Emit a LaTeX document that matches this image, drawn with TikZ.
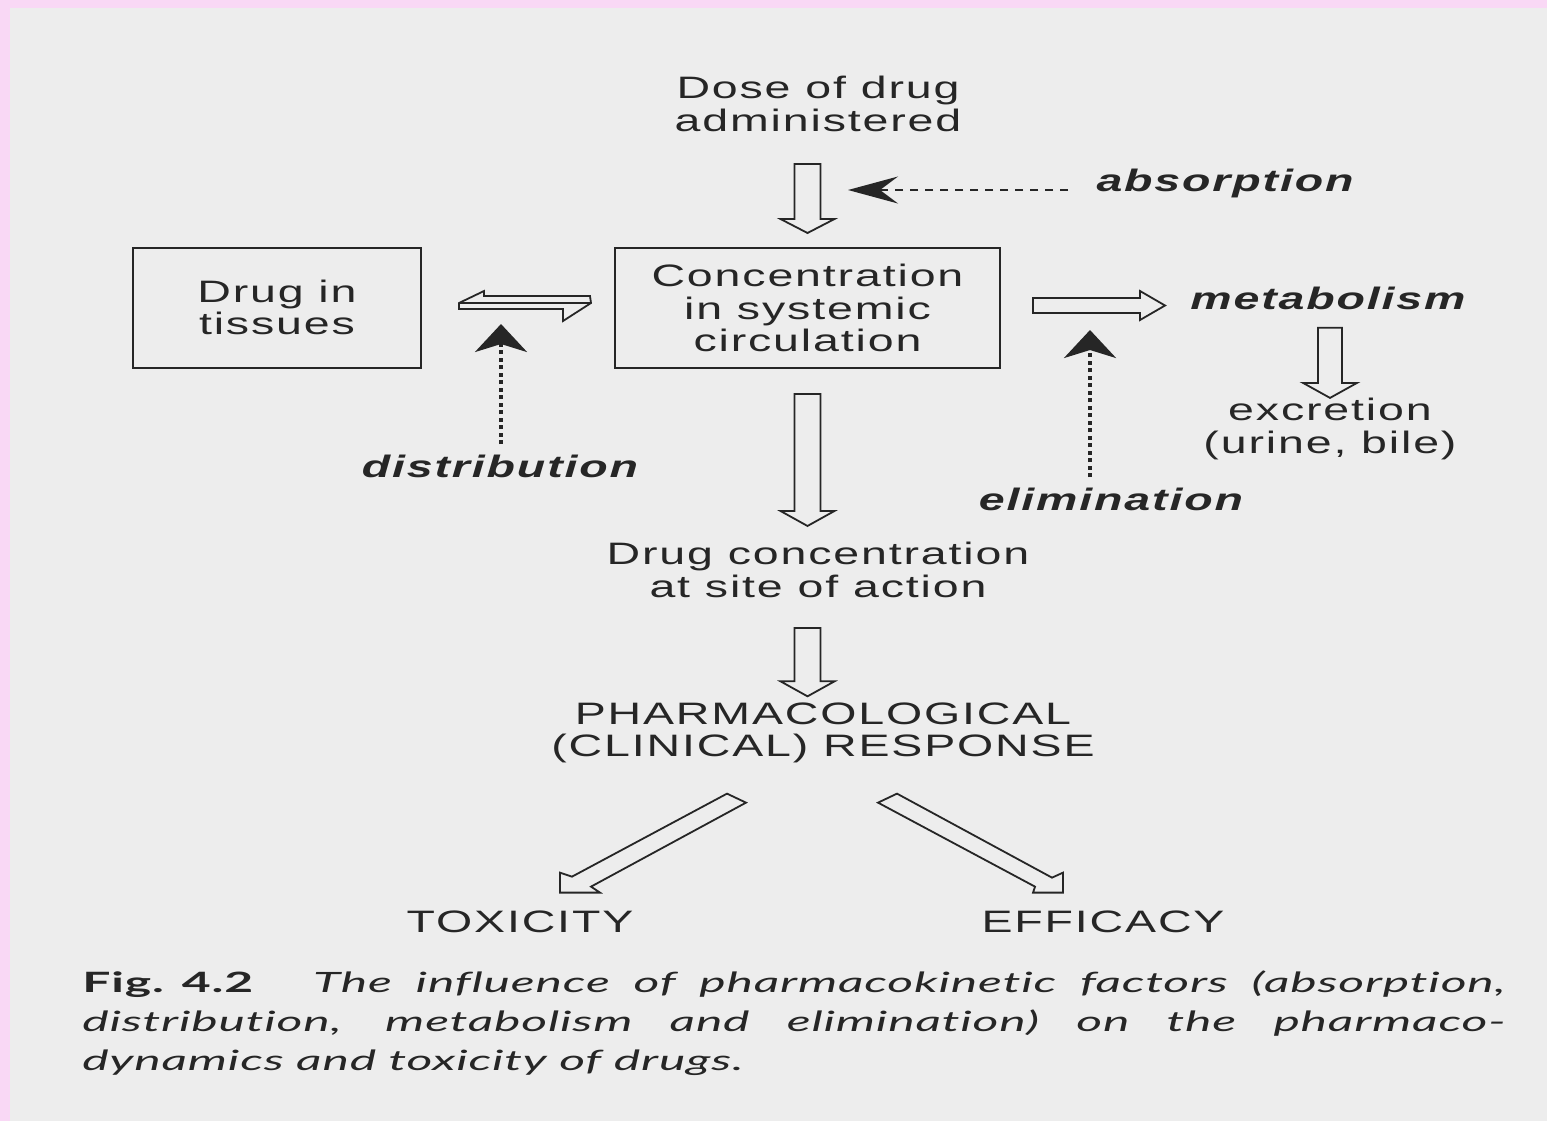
\documentclass[tikz,border=0pt]{standalone}
\usepackage{fontspec}
\usepackage{xcolor}
\usepackage{tikz}
\usetikzlibrary{positioning,calc,arrows.meta}

\newfontfamily\diagfont{Liberation Sans}[FakeStretch=1.5,LetterSpace=6]
\newfontfamily\captfont{Lato}[FakeStretch=1.78,LetterSpace=3,Ligatures=NoCommon]

\definecolor{ink}{HTML}{262626}
\definecolor{paper}{HTML}{EDEDED}
\definecolor{rim}{HTML}{F9D8F5}

% hollow block arrow: start, tip, shaft half width, head half width, head length
\newcommand{\blockarrow}[5]{%
  \coordinate (ba-s) at #1;
  \coordinate (ba-e) at #2;
  \coordinate (ba-b) at ($(ba-e)!#5!(ba-s)$);
  \draw[hollow] ($(ba-s)!#3!90:(ba-e)$) -- ($(ba-b)!#3!90:(ba-e)$) -- ($(ba-b)!#4!90:(ba-e)$)
    -- (ba-e) -- ($(ba-b)!#4!-90:(ba-e)$) -- ($(ba-b)!#3!-90:(ba-e)$) -- ($(ba-s)!#3!-90:(ba-e)$) -- cycle;
}

\begin{document}
\begin{tikzpicture}[
    x=0.5pt, y=-0.5pt,
    txt/.style={align=center, inner sep=0pt, text=ink, font=\diagfont\fontsize{15.5}{16.25}\selectfont},
    box/.style={txt, draw=ink, line width=1pt, minimum height=60pt},
    factor/.style={inner sep=0pt, text=ink, font=\diagfont\bfseries\itshape\fontsize{15.5}{16.25}\selectfont},
    hollow/.style={draw=ink, line width=0.9pt, fill=paper, line join=miter},
    dotarrow/.style={draw=ink, line width=1.7pt, dash pattern=on 2pt off 1.75pt,
        -{Stealth[length=14pt, width=26pt, inset=4pt]}},
    dasharrow/.style={draw=ink, line width=1.2pt, dash pattern=on 4pt off 3.5pt,
        -{Stealth[length=25pt, width=13.5pt, inset=9pt]}}
]

% page
\useasboundingbox (0,0) rectangle (1547,1121);
\fill[rim] (0,0) rectangle (1547,1121);
\fill[paper] (10,8) rectangle (1547,1121);

\node[txt] (dose) at (818,104) {Dose of drug\\administered};
\node[box, minimum width=192.5pt] (conc) at (807.5,308) {Concentration\\in systemic\\circulation};
\node[box, minimum width=144pt] (tissues) at (277,307.5) {Drug in\\tissues};
\node[txt] (site) at (818,570) {Drug concentration\\at site of action};
\node[txt] (resp) at (823,733) {PHARMACOLOGICAL\\(CLINICAL) RESPONSE};
\node[txt] (tox) at (520,922) {TOXICITY};
\node[txt] (eff) at (1103,922) {EFFICACY};
\node[txt] (excr) at (1330,429) {excretion\\(urine, bile)};

\node[factor] (absorb) at (1225,183) {absorption};
\node[factor] (metab) at (1328,298) {metabolism};
\node[factor] (distr) at (500,466) {distribution};
\node[factor] (elim) at (1111,499) {elimination};

\coordinate (abstip) at (848,190);
\coordinate (distrtip) at (501,324);
\coordinate (elimtip) at (1090,330);

% main pathway
\blockarrow{($(dose.south -| conc.north)+(0,32)$)}{($(conc.north)+(0,-14)$)}{6.5pt}{13.5pt}{7pt}
\blockarrow{($(conc.south)+(0,25)$)}{($(site.north -| conc.south)+(0,-16)$)}{6.5pt}{13.5pt}{7.5pt}
\blockarrow{($(site.south -| conc.south)+(0,30)$)}{($(resp.north -| conc.south)+(0,-6)$)}{6.5pt}{13.5pt}{7.5pt}
\blockarrow{($(metab.south -| excr.north)+(0,18)$)}{(excr.north)}{6pt}{13.5pt}{7.5pt}
\blockarrow{($(conc.east)+(32,-2.5)$)}{($(conc.east -| metab.west)+(-25,-2.5)$)}{3.75pt}{7.25pt}{12.5pt}

% tissues <-> circulation
\draw[hollow] ([shift={(37,-4.5)}]tissues.east) -- ++(25,-12) -- ++(0,5) -- ++(106,0) -- ++(1,7)
    -- ++(-28,18) -- ++(0,-12) -- ++(-104,0) -- cycle;
\draw[ink, line width=0.9pt] ([shift={(37,-4.5)}]tissues.east) -- ++(132,0);

% response -> outcomes
\draw[hollow] ([shift={(40,-18)}]tox.north) -- ++(0,-20) -- ++(12,4) -- ++(155,-83) -- ++(19,9)
    -- ++(-155,84) -- ++(9,6) -- cycle;
\draw[hollow] ([shift={(-40,-18)}]eff.north) -- ++(0,-20) -- ++(-11,5) -- ++(-155,-84) -- ++(-19,9)
    -- ++(157,84) -- ++(-2,6) -- cycle;

% pharmacokinetic factors
\draw[dasharrow] ($(absorb.west)+(-28,7)$) -- (abstip);
\draw[dotarrow] ($(distr.north -| distrtip)+(0,-10)$) -- (distrtip);
\draw[dotarrow] ($(elim.north -| elimtip)+(0,-10)$) -- (elimtip);

\node[anchor=north west, inner sep=0pt, text width=711.5pt, align=justify, text=ink,
    font=\captfont\fontsize{14}{19.5}\selectfont] (caption) at (82,970)
    {{\bfseries Fig.\hspace{9pt}4.2}\hspace{30pt}\itshape The influence of pharmacokinetic factors (absorption,\linebreak
    distribution, metabolism and elimination) on the pharmaco-\linebreak
    dynamics and toxicity of drugs.};

\end{tikzpicture}
\end{document}
